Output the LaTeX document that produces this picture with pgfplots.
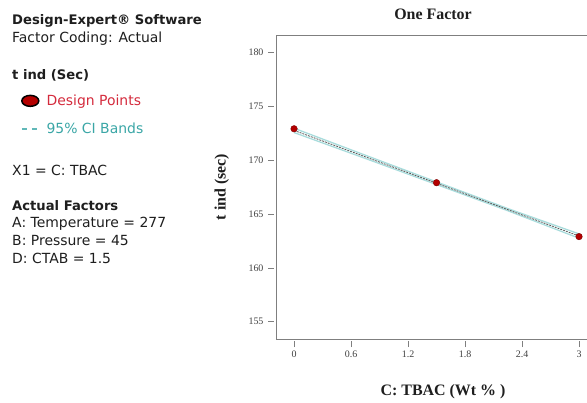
\documentclass[border=0pt]{standalone}
\usepackage{pgfplots}
\pgfplotsset{compat=1.18}
\usepackage{fontspec}
\setmainfont{Liberation Serif}
\newfontfamily\dejavu{DejaVu Sans}
\definecolor{dpred}{HTML}{D42A3C}
\definecolor{ptred}{HTML}{B40000}
\definecolor{citeal}{HTML}{3AA6A6}
\definecolor{band}{HTML}{A8DCDC}
\definecolor{axgray}{HTML}{7F7F7F}
\definecolor{txt}{HTML}{1E1E1E}
\begin{document}
\begin{tikzpicture}
\useasboundingbox (0,0) rectangle (587bp,403bp);
\begin{axis}[
  at={(276bp,64bp)}, anchor=south west,
  scale only axis, width=311bp, height=304bp,
  xmin=-0.19, xmax=3.084, ymin=153.4, ymax=181.6,
  axis x line*=box, axis y line*=left,
  axis line style={axgray, line width=0.9pt},
  xtick={0,0.6,1.2,1.8,2.4,3}, ytick={155,160,...,180},
  xticklabels={0,0.6,1.2,1.8,2.4,3},
  xtick pos=left, ytick pos=left,
  tick align=outside, major tick length=6bp,
  tick style={axgray, line width=0.6pt},
  xtick style={yshift=-2bp}, ytick style={xshift=-2bp},
  /pgf/number format/assume math mode=true,
  ticklabel style={font=\fontsize{10}{11}\selectfont, text=txt!85},
  yticklabel style={xshift=-3bp},
  xticklabel style={yshift=-2bp},
  title={One Factor},
  title style={at={(axis description cs:0.505,1.049)}, anchor=center, font=\fontsize{16}{18}\selectfont\bfseries, text=txt},
  xlabel={C: TBAC (Wt \% )},
  xlabel style={at={(axis description cs:0.537,-0.174)}, anchor=center, font=\fontsize{16}{18}\selectfont\bfseries, text=txt},
  ylabel={t ind (sec)},
  ylabel style={at={(axis description cs:-0.174,0.5)}, anchor=center, rotate=0, font=\fontsize{16}{18}\selectfont\bfseries, text=txt},
  clip=false,
  legend style={draw=none, fill=none, at={(axis description cs:-0.83,0.817)}, anchor=north west,
    font=\dejavu\fontsize{14}{16}\selectfont, row sep=12pt, column sep=5bp},
  legend cell align=left,
]
\addlegendimage{only marks, mark=*, mark size=5.5pt, mark options={xscale=1.55, fill=ptred, draw=black, line width=1.5pt}}
\addlegendentry{\textcolor{dpred}{Design Points}}
\addlegendimage{citeal!80, line width=1.5pt, dash pattern=on 5pt off 5pt}
\addlegendentry{\textcolor{citeal}{95\% CI Bands}}
\addplot[band, line width=1.3pt, forget plot] coordinates {(0,172.95) (0.75,170.45) (1.5,167.97) (2.25,165.5) (3,163.15)};
\addplot[band, line width=1.3pt, forget plot] coordinates {(0,172.55) (0.75,170.15) (1.5,167.73) (2.25,165.3) (3,162.75)};
\addplot[black!65, dash pattern=on 2pt off 1pt, line width=0.8pt, forget plot] coordinates {(0,172.75) (3,162.95)};
\addplot[only marks, mark=*, mark size=3.3pt, mark options={fill=ptred, draw=ptred!70!black}, forget plot] coordinates {(0,172.9) (1.5,167.9) (3,162.9)};
\end{axis}
\begin{scope}[every node/.style={anchor=base west, inner sep=0pt, text=txt, font=\dejavu\fontsize{14}{16}\selectfont}]
\node[font=\dejavu\bfseries\fontsize{13.2}{15}\selectfont] at (12bp,378bp) {Design-Expert® Software};
\node at (12bp,360bp) {Factor Coding: Actual};
\node[font=\dejavu\bfseries\fontsize{13.2}{15}\selectfont] at (12bp,323bp) {t ind (Sec)};
\node at (12bp,227bp) {X1 = C: TBAC};
\node[font=\dejavu\bfseries\fontsize{13.2}{15}\selectfont] at (12bp,192bp) {Actual Factors};
\node at (12bp,175bp) {A: Temperature = 277};
\node at (12bp,157bp) {B: Pressure = 45};
\node at (12bp,139bp) {D: CTAB = 1.5};
\end{scope}
\end{tikzpicture}
\end{document}
